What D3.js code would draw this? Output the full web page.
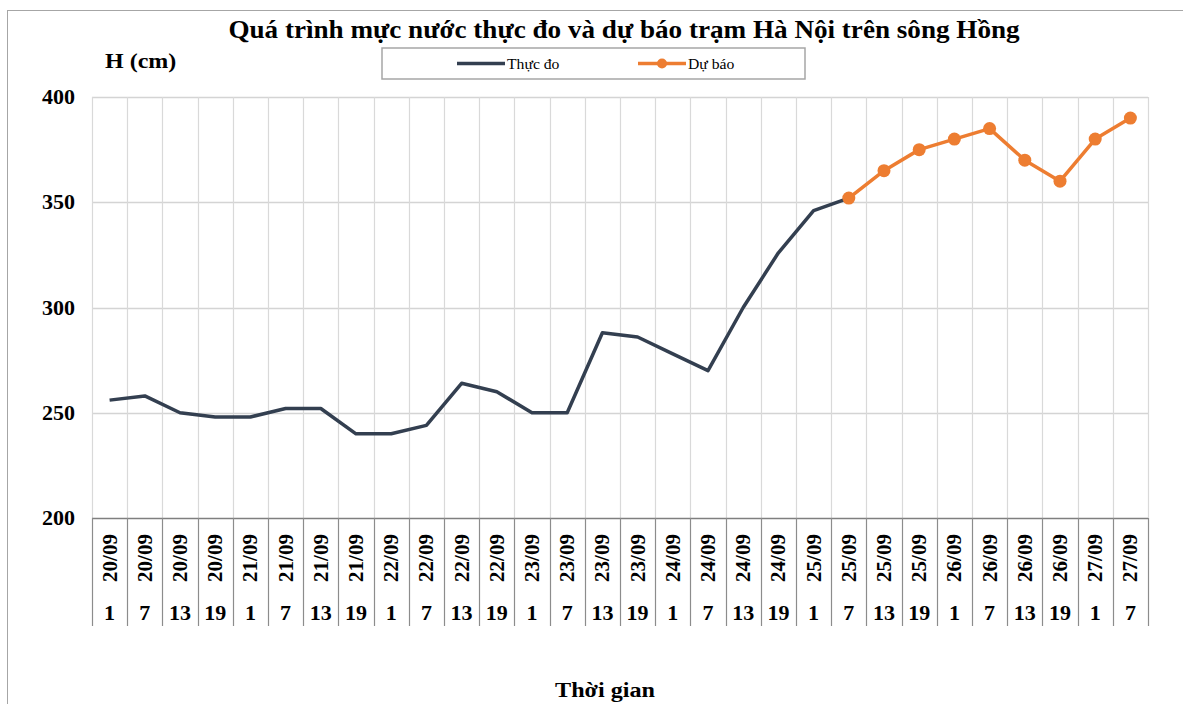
<!DOCTYPE html>
<html>
<head>
<meta charset="utf-8">
<title>Mực nước Hà Nội</title>
<script src="https://cdnjs.cloudflare.com/ajax/libs/d3/7.8.5/d3.min.js"></script>
<style>
	body { margin: 0; background: #fff; }
	text { font-family: "Liberation Serif", "Times New Roman", serif; }
</style>
</head>
<body>
<svg id="chart" width="1183" height="704"></svg>
<script>
	// ngày và giờ của từng mốc
	var days = ["20/09","20/09","20/09","20/09","21/09","21/09","21/09","21/09",
		"22/09","22/09","22/09","22/09","23/09","23/09","23/09","23/09",
		"24/09","24/09","24/09","24/09","25/09","25/09","25/09","25/09",
		"26/09","26/09","26/09","26/09","27/09","27/09"];
	var hours = ["1","7","13","19","1","7","13","19","1","7","13","19","1","7","13","19",
		"1","7","13","19","1","7","13","19","1","7","13","19","1","7"];
	// thực đo (index 0..21)
	var observed = [256, 258, 250, 248, 248, 252, 252, 240, 240, 244, 264, 260,
		250, 250, 288, 286, 278, 270, 300, 326, 346, 352];
	// dự báo (từ index 21)
	var forecast = [352, 365, 375, 380, 385, 370, 360, 380, 390];
	var forecastStart = 21;
	var yTicks = [200, 250, 300, 350, 400];

	var svg = d3.select("#chart");
	var pLeft = 92, pRight = 1148, pTop = 97, pBottom = 518;
	var n = days.length;
	var keys = d3.range(n);

	var x = d3.scaleBand().domain(keys).range([pLeft, pRight]);
	var y = d3.scaleLinear().domain([200, 400]).range([pBottom, pTop]);

	// chữ hơi kéo giãn ngang như hình gốc
	function label(g, tx, ty, size, sx, anchor, str) {
		return g.append("text")
			.attr("transform", "translate(" + tx + "," + ty + ") scale(" + sx + ",1)")
			.attr("text-anchor", anchor)
			.attr("font-size", size).attr("font-weight", "bold")
			.text(str);
	}

	// khung ngoài
	svg.append("rect").attr("x", 7.5).attr("y", 10.5).attr("width", 1190).attr("height", 720)
		.attr("fill", "none").attr("stroke", "#a6a6a6").attr("stroke-width", 1);

	// lưới ngang
	svg.append("g").selectAll("line").data(yTicks.slice(1)).join("line")
		.attr("x1", pLeft).attr("x2", pRight)
		.attr("y1", function(d){ return Math.round(y(d)) + 0.5; })
		.attr("y2", function(d){ return Math.round(y(d)) + 0.5; })
		.attr("stroke", "#d4d4d4").attr("stroke-width", 1.5);

	// lưới dọc
	var bounds = keys.map(function(i){ return x(i); }).concat([pRight]);
	svg.append("g").selectAll("line").data(bounds).join("line")
		.attr("x1", function(d){ return Math.round(d) + 0.5; })
		.attr("x2", function(d){ return Math.round(d) + 0.5; })
		.attr("y1", pTop).attr("y2", pBottom)
		.attr("stroke", "#d9d9d9").attr("stroke-width", 1.2);

	// trục hoành + ô nhãn
	svg.append("line").attr("x1", pLeft).attr("x2", pRight).attr("y1", pBottom + 0.5).attr("y2", pBottom + 0.5)
		.attr("stroke", "#7f7f7f").attr("stroke-width", 1.5);
	svg.append("g").selectAll("line").data(bounds).join("line")
		.attr("x1", function(d){ return Math.round(d) + 0.5; })
		.attr("x2", function(d){ return Math.round(d) + 0.5; })
		.attr("y1", pBottom).attr("y2", 626)
		.attr("stroke", "#8c8c8c").attr("stroke-width", 1.2);

	svg.append("g").selectAll("text").data(keys).join("text")
		.attr("transform", function(i){ return "translate(" + (x(i) + x.bandwidth()/2 + 7) + ",558) rotate(-90)"; })
		.attr("text-anchor", "middle")
		.attr("font-size", 21).attr("font-weight", "bold")
		.text(function(i){ return days[i]; });

	var hg = svg.append("g");
	keys.forEach(function(i){
		label(hg, x(i) + x.bandwidth()/2, 620, 21, 1.05, "middle", hours[i]);
	});

	// trục tung
	var yg = svg.append("g");
	yTicks.forEach(function(d){
		label(yg, 75, y(d) + 7, 20, 1.1, "end", d);
	});

	// đường
	var line = d3.line()
		.x(function(d){ return x(d[0]) + x.bandwidth()/2; })
		.y(function(d){ return y(d[1]); });

	var obsData = observed.map(function(v, i){ return [i, v]; });
	var fcData = forecast.map(function(v, i){ return [forecastStart + i, v]; });

	svg.append("path").datum(obsData).attr("d", line)
		.attr("fill", "none").attr("stroke", "#333f50").attr("stroke-width", 3.5)
		.attr("stroke-linejoin", "round");

	svg.append("path").datum(fcData).attr("d", line)
		.attr("fill", "none").attr("stroke", "#ed7d31").attr("stroke-width", 3.5)
		.attr("stroke-linejoin", "round");

	svg.append("g").selectAll("circle").data(fcData).join("circle")
		.attr("cx", function(d){ return x(d[0]) + x.bandwidth()/2; })
		.attr("cy", function(d){ return y(d[1]); })
		.attr("r", 6.5).attr("fill", "#ed7d31");

	// tiêu đề
	label(svg, 624, 38, 25, 1.085, "middle", "Quá trình mực nước thực đo và dự báo trạm Hà Nội trên sông Hồng");
	label(svg, 105, 68, 20, 1.2, "start", "H (cm)");
	label(svg, 605, 697, 21, 1.15, "middle", "Thời gian");

	// chú thích
	var lg = svg.append("g");
	lg.append("rect").attr("x", 382).attr("y", 48).attr("width", 423).attr("height", 31)
		.attr("fill", "#fff").attr("stroke", "#a6a6a6").attr("stroke-width", 1.5);
	lg.append("line").attr("x1", 457).attr("x2", 505).attr("y1", 63.5).attr("y2", 63.5)
		.attr("stroke", "#333f50").attr("stroke-width", 3.5);
	lg.append("text").attr("transform", "translate(507,69) scale(1.12,1)").attr("font-size", 14).text("Thực đo");
	lg.append("line").attr("x1", 638).attr("x2", 686).attr("y1", 63.5).attr("y2", 63.5)
		.attr("stroke", "#ed7d31").attr("stroke-width", 3.5);
	lg.append("circle").attr("cx", 662).attr("cy", 63.5).attr("r", 5).attr("fill", "#ed7d31");
	lg.append("text").attr("transform", "translate(688,69) scale(1.12,1)").attr("font-size", 14).text("Dự báo");
</script>
</body>
</html>
